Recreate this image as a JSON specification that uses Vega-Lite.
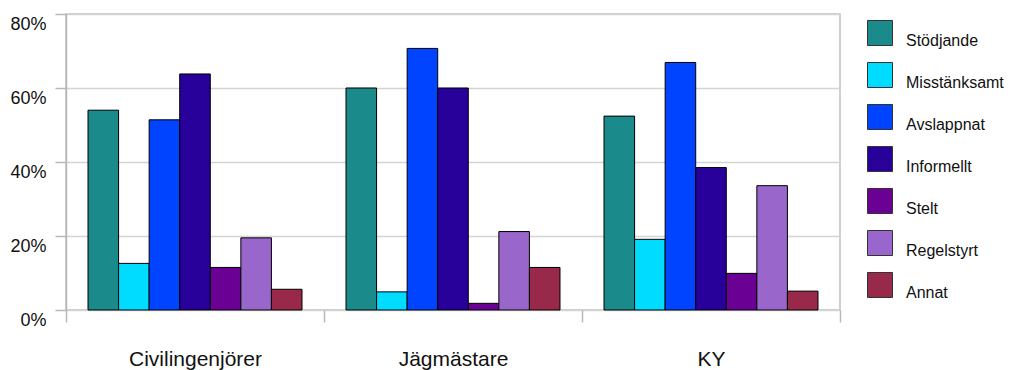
{
  "$schema": "https://vega.github.io/schema/vega-lite/v6.json",
  "width": 774,
  "height": 296,
  "autosize": "none",
  "padding": {"left": 66, "top": 14, "right": 184, "bottom": 60},
  "background": "white",
  "config": {
    "font": "Liberation Sans",
    "view": {"stroke": "#c0c0c0", "strokeWidth": 1.5},
    "axis": {"domainColor": "#b8b8b8", "tickColor": "#b8b8b8", "gridColor": "#d4d4d4", "gridWidth": 1.5, "domainWidth": 1.5, "tickWidth": 1.5, "labelColor": "#111", "labelFont": "Liberation Sans"}
  },
  "data": {
    "values": [
      {"grupp": "Civilingenjörer", "svar": "Stödjande", "andel": 54.0},
      {"grupp": "Civilingenjörer", "svar": "Misstänksamt", "andel": 12.6},
      {"grupp": "Civilingenjörer", "svar": "Avslappnat", "andel": 51.4},
      {"grupp": "Civilingenjörer", "svar": "Informellt", "andel": 63.8},
      {"grupp": "Civilingenjörer", "svar": "Stelt", "andel": 11.5},
      {"grupp": "Civilingenjörer", "svar": "Regelstyrt", "andel": 19.5},
      {"grupp": "Civilingenjörer", "svar": "Annat", "andel": 5.6},
      {"grupp": "Jägmästare", "svar": "Stödjande", "andel": 60.0},
      {"grupp": "Jägmästare", "svar": "Misstänksamt", "andel": 4.9},
      {"grupp": "Jägmästare", "svar": "Avslappnat", "andel": 70.7},
      {"grupp": "Jägmästare", "svar": "Informellt", "andel": 60.0},
      {"grupp": "Jägmästare", "svar": "Stelt", "andel": 1.8},
      {"grupp": "Jägmästare", "svar": "Regelstyrt", "andel": 21.2},
      {"grupp": "Jägmästare", "svar": "Annat", "andel": 11.5},
      {"grupp": "KY", "svar": "Stödjande", "andel": 52.4},
      {"grupp": "KY", "svar": "Misstänksamt", "andel": 19.1},
      {"grupp": "KY", "svar": "Avslappnat", "andel": 66.9},
      {"grupp": "KY", "svar": "Informellt", "andel": 38.5},
      {"grupp": "KY", "svar": "Stelt", "andel": 9.9},
      {"grupp": "KY", "svar": "Regelstyrt", "andel": 33.6},
      {"grupp": "KY", "svar": "Annat", "andel": 5.1}
    ]
  },
  "mark": {"type": "bar", "stroke": "#000", "strokeWidth": 1, "opacity": 1},
  "encoding": {
    "x": {
      "field": "grupp", "type": "nominal", "sort": null, "title": null,
      "scale": {"paddingInner": 0, "paddingOuter": 0},
      "axis": {"tickBand": "extent", "labelAngle": 0, "tickSize": 12, "labelPadding": 26, "labelFontSize": 21, "domain": false}
    },
    "xOffset": {
      "field": "svar", "type": "nominal", "sort": ["Stödjande", "Misstänksamt", "Avslappnat", "Informellt", "Stelt", "Regelstyrt", "Annat"],
      "scale": {"paddingInner": 0, "paddingOuter": 0.72}
    },
    "y": {
      "field": "andel", "type": "quantitative", "title": null,
      "scale": {"domain": [0, 80], "nice": false},
      "axis": {"values": [0, 20, 40, 60, 80], "labelExpr": "datum.value + '%'", "tickSize": 11, "labelPadding": 9, "labelFontSize": 18, "labelBaseline": "top", "labelOffset": 1}
    },
    "color": {
      "field": "svar", "type": "nominal",
      "sort": ["Stödjande", "Misstänksamt", "Avslappnat", "Informellt", "Stelt", "Regelstyrt", "Annat"],
      "scale": {
        "domain": ["Stödjande", "Misstänksamt", "Avslappnat", "Informellt", "Stelt", "Regelstyrt", "Annat"],
        "range": ["#1a8a8a", "#00dcff", "#0044ff", "#28009a", "#6a0094", "#9966cc", "#99294b"]
      },
      "legend": {
        "title": null, "orient": "none", "legendX": 801, "legendY": 6,
        "symbolType": "square", "symbolSize": 625, "symbolStrokeColor": "#333", "symbolStrokeWidth": 1,
        "labelFontSize": 16, "labelBaseline": "top", "labelOffset": 13, "rowPadding": 11,
        "labelColor": "#111", "padding": 0, "symbolOpacity": 1
      }
    }
  }
}
